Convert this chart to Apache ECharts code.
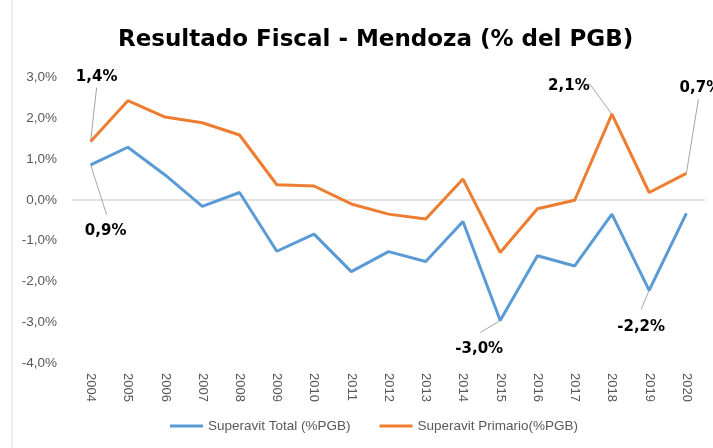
<!DOCTYPE html>
<html><head><meta charset="utf-8">
<script src="https://cdn.jsdelivr.net/npm/echarts@6/dist/echarts.min.js"></script>
<style>html,body{margin:0;padding:0;background:#fff}#c{width:713px;height:448px}</style>
</head><body><div id="c"></div>
<script>
const years = ['2004','2005','2006','2007','2008','2009','2010','2011','2012','2013','2014','2015','2016','2017','2018','2019','2020'];
const superavitTotal = [0.86, 1.29, 0.61, -0.16, 0.18, -1.26, -0.84, -1.76, -1.27, -1.51, -0.53, -2.96, -1.37, -1.62, -0.35, -2.22, -0.33];
const superavitPrimario = [1.43, 2.43, 2.03, 1.89, 1.59, 0.37, 0.34, -0.10, -0.35, -0.47, 0.51, -1.29, -0.22, -0.01, 2.10, 0.18, 0.65];
const yTicks = [-4, -3, -2, -1, 0, 1, 2, 3];
const seriesNames = ['Superavit Total (%PGB)', 'Superavit Primario(%PGB)'];
const titleText = 'Resultado Fiscal - Mendoza (% del PGB)';
// labelled points: key seriesIndex-dataIndex -> label offset [dx, dy]
const labelled = { '0-0': [15, 74], '0-11': [-21, 36], '0-15': [-8, 44], '1-0': [6, -57], '1-14': [-43, -21], '1-16': [14, -78] };
// leader line bend points, relative to the data point
const leaders = {
  '0-0': [[16, 50]], '0-11': [[-20, 12]], '0-15': [[-8, 19]],
  '1-0': [[6, -54]], '1-14': [[-22, -30], [-29, -30]], '1-16': [[12, -74]]
};

function fmt(v) { return v.toFixed(1).replace('.', ',') + '%'; }

function buildData(arr, si) {
  return arr.map((v, i) => labelled[si + '-' + i] ? { value: v, label: { show: true } } : v);
}

const chart = echarts.init(document.getElementById('c'));
const labelStyle = {
  show: false, position: 'top', distance: 0,
  formatter: p => fmt(p.value),
  fontFamily: 'DejaVu Sans', fontWeight: 'bold', fontSize: 15, color: '#000'
};
function layoutFn(params) {
  const off = labelled[params.seriesIndex + '-' + params.dataIndex];
  if (!off) return {};
  return { dx: off[0], dy: off[1] };
}

chart.setOption({
  animation: false,
  backgroundColor: '#fff',
  title: {
    text: titleText, left: 113, top: 24,
    textStyle: { fontFamily: 'DejaVu Sans', fontWeight: 'bold', fontSize: 23, color: '#000' }
  },
  legend: {
    bottom: 10, left: 165, itemWidth: 33, itemHeight: 3, itemGap: 29, icon: 'rect',
    textStyle: { fontFamily: 'Liberation Sans', fontSize: 13.5, color: '#595959' },
    data: seriesNames
  },
  grid: { left: 72, right: 8, top: 77.5, bottom: 85 },
  xAxis: {
    type: 'category', data: years, boundaryGap: true,
    axisLine: { show: false }, axisTick: { show: false },
    axisLabel: { rotate: -90, margin: 10, fontFamily: 'Liberation Sans', fontSize: 13, color: '#595959' }
  },
  yAxis: {
    type: 'value', min: yTicks[0], max: yTicks[yTicks.length - 1], interval: 1,
    axisLine: { show: false }, axisTick: { show: false },
    axisLabel: { margin: 15, formatter: v => fmt(v), fontFamily: 'Liberation Sans', fontSize: 13.5, color: '#595959' },
    splitLine: { show: true, lineStyle: { color: yTicks.map(t => t === 0 ? '#d9d9d9' : 'rgba(0,0,0,0)'), width: 1.5 } }
  },
  series: [
    {
      name: seriesNames[0], type: 'line', data: buildData(superavitTotal, 0),
      symbol: 'circle', symbolSize: 0, showSymbol: true, z: 3,
      lineStyle: { color: '#5b9bd5', width: 3 }, itemStyle: { color: '#5b9bd5' },
      label: labelStyle, labelLayout: layoutFn
    },
    {
      name: seriesNames[1], type: 'line', data: buildData(superavitPrimario, 1),
      symbol: 'circle', symbolSize: 0, showSymbol: true, z: 3,
      lineStyle: { color: '#ed7d31', width: 3 }, itemStyle: { color: '#ed7d31' },
      label: labelStyle, labelLayout: layoutFn
    }
  ]
});

// leader lines from the data points (positions via the chart's own scales)
const seriesData = [superavitTotal, superavitPrimario];
const graphics = [{ type: 'line', shape: { x1: 12, y1: 0, x2: 12, y2: 448 }, style: { stroke: '#d9d9d9', lineWidth: 1 }, silent: true }];
Object.keys(leaders).forEach(k => {
  const [si, di] = k.split('-').map(Number);
  const p = chart.convertToPixel({ xAxisIndex: 0, yAxisIndex: 0 }, [years[di], seriesData[si][di]]);
  const pts = [p].concat(leaders[k].map(o => [p[0] + o[0], p[1] + o[1]]));
  graphics.push({ type: 'polyline', shape: { points: pts }, style: { stroke: '#a6a6a6', lineWidth: 1, fill: null }, silent: true, z: 1 });
});
chart.setOption({ graphic: graphics });
</script></body></html>
